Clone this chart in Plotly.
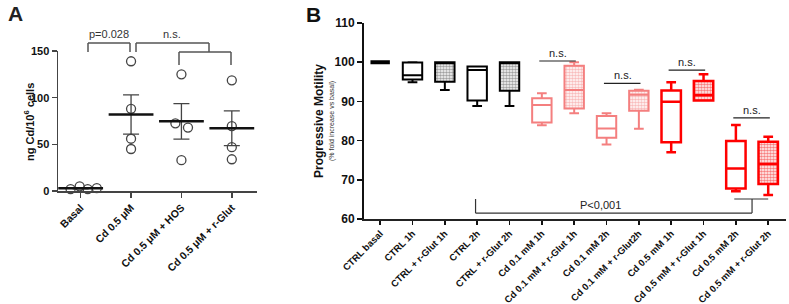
import plotly.graph_objects as go

W, H = 789, 304

# ---------------- Panel A data ----------------
a_categories = ["Basal", "Cd 0.5 μM", "Cd 0.5 μM + HOS", "Cd 0.5 μM + r-Glut"]
a_basal = [2, 5, 2, 3]
a_cd = [139, 88, 56, 45]
a_hos = [125, 72.5, 68, 33]
a_rglut = [118.6, 69.6, 47, 34]
a_yticks = [0, 50, 100, 150]

# ---------------- Panel B data ----------------
b_categories = ["CTRL basal", "CTRL 1h", "CTRL + r-Glut 1h", "CTRL 2h", "CTRL + r-Glut 2h",
                "Cd 0.1 mM 1h", "Cd 0.1 mM + r-Glut 1h", "Cd 0.1 mM 2h", "Cd 0.1 mM + r-Glut2h",
                "Cd 0.5 mM 1h", "Cd 0.5 mM + r-Glut 1h", "Cd 0.5 mM 2h", "Cd 0.5 mM + r-Glut 2h"]
b_min = [100, 94.9, 92.9, 88.8, 88.8, 83.9, 87.0, 79.0, 83.0, 77.0, 90.2, 67.1, 66.1]
b_q1 = [100, 95.6, 95.0, 90.2, 92.7, 84.6, 88.2, 80.7, 87.6, 79.6, 90.2, 67.8, 68.9]
b_med = [100, 96.7, 99.8, 98.0, 99.8, 89.1, 92.9, 83.1, 91.7, 89.9, 91.6, 72.9, 74.0]
b_q3 = [100, 99.9, 100, 98.9, 100, 90.8, 99.1, 86.3, 92.7, 92.8, 95.2, 79.9, 79.7]
b_max = [100, 100, 100, 98.9, 100, 92.1, 100, 87.0, 93.0, 94.9, 96.9, 84.0, 81.0]
b_yticks = [60, 70, 80, 90, 100, 110]
ns_pairs = [(5, 6, 100.3), (7, 8, 94.6), (9, 10, 98.0), (11, 12, 85.8)]

# ---------------- styles ----------------
FONT = "Liberation Sans, Arial, sans-serif"
a_offsets = [[-0.2, -0.02, 0.14, 0.32], [0, 0, 0, 0], [0, -0.12, 0.13, 0], [0, 0, 0, 0]]
b_colors = ["#000000"] * 5 + ["#F47F7F"] * 4 + ["#FF0000"] * 4
b_hatched = [False, False, True, False, True, False, True, False, True, False, True, False, True]
b_lw = [4, 2, 2, 2, 2, 2, 2, 2, 2, 2.5, 2.5, 2.5, 2.5]
hatch_fg = {"#000000": "#444444", "#F47F7F": "#F27A7A", "#FF0000": "#F00000"}


def px(x):
    return x / W


def py(y):
    return 1 - y / H


fig = go.Figure()

# ---- Panel A ----
groups = [a_basal, a_cd, a_hos, a_rglut]
means, sems = [], []
for i, vals in enumerate(groups):
    n = len(vals)
    m = sum(vals) / n
    sd = (sum((v - m) ** 2 for v in vals) / (n - 1)) ** 0.5
    means.append(m)
    sems.append(sd / n ** 0.5)
    fig.add_trace(go.Scatter(
        x=[i + o for o in a_offsets[i]], y=vals, mode="markers",
        marker=dict(symbol="circle-open", size=9, color="#444444", line=dict(width=1.3)),
        cliponaxis=False, showlegend=False, xaxis="x", yaxis="y"))

fig.add_trace(go.Scatter(
    x=list(range(len(a_categories))), y=means, mode="markers",
    marker=dict(symbol="line-ew-open", size=32, color="#111111", line=dict(width=2.5, color="#111111")),
    error_y=dict(type="data", array=sems, thickness=1.3, width=8, color="#444444"),
    cliponaxis=False, showlegend=False, xaxis="x", yaxis="y"))

# ---- Panel B ----
for i, cat in enumerate(b_categories):
    if b_hatched[i]:
        fig.add_trace(go.Bar(
            x=[cat], y=[b_q3[i] - b_q1[i]], base=[b_q1[i]], width=0.6,
            marker=dict(color="white", line=dict(width=0),
                        pattern=dict(shape=".", fgcolor=hatch_fg[b_colors[i]], bgcolor="white",
                                     size=3, solidity=0.6)),
            showlegend=False, xaxis="x2", yaxis="y2"))
for i, cat in enumerate(b_categories):
    fig.add_trace(go.Box(
        x=[cat], q1=[b_q1[i]], median=[b_med[i]], q3=[b_q3[i]],
        lowerfence=[b_min[i]], upperfence=[b_max[i]],
        width=0.6, whiskerwidth=0.5, boxpoints=False,
        fillcolor="rgba(0,0,0,0)", line=dict(color=b_colors[i], width=b_lw[i]),
        showlegend=False, xaxis="x2", yaxis="y2"))

shapes = []
annotations = []

# n.s. lines in panel B
for a, b, yv in ns_pairs:
    shapes.append(dict(type="line", xref="x2", yref="y2", x0=a - 0.08, x1=b + 0.05, y0=yv, y1=yv,
                       line=dict(color="#222222", width=1.2)))
    annotations.append(dict(xref="x2", yref="y2", x=(a + b) / 2, y=yv, text="n.s.", showarrow=False,
                            xanchor="center", yanchor="bottom",
                            font=dict(family=FONT, size=11, color="#222222")))

# P<0,001 bracket
pc = "#333333"
shapes += [
    dict(type="line", xref="x2", yref="y2", x0=2.95, x1=2.95, y0=61.5, y1=65.1, line=dict(color=pc, width=1.2)),
    dict(type="line", xref="x2", yref="y2", x0=2.95, x1=11.5, y0=61.5, y1=61.5, line=dict(color=pc, width=1.2)),
    dict(type="line", xref="x2", yref="y2", x0=11.5, x1=11.5, y0=61.5, y1=65.1, line=dict(color=pc, width=1.2)),
    dict(type="line", xref="x2", yref="y2", x0=10.95, x1=12.0, y0=65.1, y1=65.1, line=dict(color=pc, width=1.2)),
]
annotations.append(dict(xref="x2", yref="y2", x=6.8, y=61.5, text="P<0,001", showarrow=False,
                        xanchor="center", yanchor="bottom",
                        font=dict(family=FONT, size=11, color="#222222")))

# Panel A brackets (paper coords)
bc = "#555555"


def seg(x0, y0, x1, y1):
    shapes.append(dict(type="line", xref="paper", yref="paper", x0=px(x0), y0=py(y0), x1=px(x1), y1=py(y1),
                       line=dict(color=bc, width=1.5)))


seg(88, 43, 130, 43); seg(88, 43, 88, 52); seg(130, 43, 130, 52)
seg(136, 43, 209, 43); seg(136, 43, 136, 52); seg(209, 43, 209, 52)
seg(179, 52, 231, 52); seg(179, 52, 179, 65); seg(231, 52, 231, 65)


def note(x, y, text, size, color="#222222", angle=0):
    annotations.append(dict(xref="paper", yref="paper", x=px(x), y=py(y), text=text, showarrow=False,
                            xanchor="center", yanchor="middle", textangle=angle,
                            font=dict(family=FONT, size=size, color=color)))


note(109, 34, "p=0.028", 11, "#333333")
note(172, 34, "n.s.", 11, "#333333")
note(16, 14, "<b>A</b>", 21)
note(313, 15, "<b>B</b>", 21, "#111111")
note(29, 122, "<b>ng Cd/10<sup>6</sup> cells</b>", 11, "#111111", -90)
note(319, 121, "<b>Progressive Motility</b>", 12, "#111111", -90)
note(332, 121, "(% fold increase vs basal)", 7, "#333333", -90)

fig.update_layout(
    width=W, height=H, autosize=False,
    margin=dict(l=0, r=0, t=0, b=0),
    paper_bgcolor="white", plot_bgcolor="white",
    barmode="overlay", boxmode="overlay",
    showlegend=False,
    shapes=shapes, annotations=annotations,
    xaxis=dict(domain=[px(58), px(257)], range=[-0.45, 3.5], tickmode="array",
               tickvals=list(range(len(a_categories))), ticktext=a_categories, tickangle=-45,
               showline=True, linecolor="#444444", linewidth=1.5, ticks="outside", ticklen=5,
               tickwidth=1.5, tickcolor="#444444", showgrid=False, zeroline=False, automargin=False,
               tickfont=dict(family=FONT, size=10.5, color="#111111", weight="bold"), anchor="y"),
    yaxis=dict(domain=[py(191), py(51)], range=[0, 150], tickmode="array", tickvals=a_yticks,
               showline=True, linecolor="#444444", linewidth=1.5, ticks="outside", ticklen=5,
               tickwidth=1.5, tickcolor="#444444", showgrid=False, zeroline=False, automargin=False,
               tickfont=dict(family=FONT, size=11, color="#111111", weight="bold"), anchor="x"),
    xaxis2=dict(domain=[px(364), px(786)], type="category", categoryorder="array", categoryarray=b_categories,
                range=[-0.5, 12.55], tickangle=-45,
                showline=True, linecolor="#222222", linewidth=1.5, ticks="outside", ticklen=4,
                tickwidth=1.5, tickcolor="#111111", showgrid=False, zeroline=False, automargin=False,
                tickfont=dict(family=FONT, size=9.5, color="#111111", weight="bold"), anchor="y2"),
    yaxis2=dict(domain=[py(219), py(23)], range=[60, 110], tickmode="array", tickvals=b_yticks,
                showline=True, linecolor="#111111", linewidth=2, ticks="outside", ticklen=5,
                tickwidth=1.5, tickcolor="#111111", showgrid=False, zeroline=False, automargin=False,
                tickfont=dict(family=FONT, size=12, color="#111111", weight="bold"), anchor="x2"),
)

fig.write_html("out.html", config={"displayModeBar": False, "staticPlot": True},
               post_script="document.body.style.margin='0';document.body.style.overflow='hidden';")
